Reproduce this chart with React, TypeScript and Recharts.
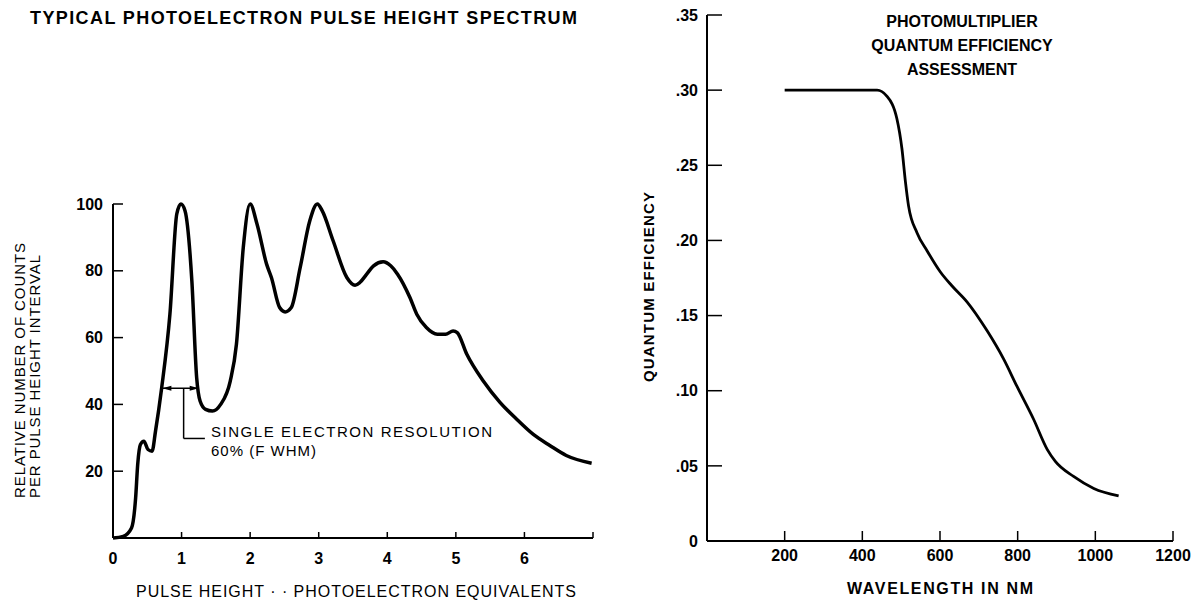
import React from "react";
import { LineChart, Line, XAxis, YAxis, ReferenceLine } from "recharts";

const FONT = '"Liberation Sans", Arial, Helvetica, sans-serif';

// left: typical photoelectron pulse height spectrum
const pulseHeight = [
  0, 0.15, 0.27, 0.33, 0.36, 0.4, 0.45, 0.51, 0.57, 0.62, 0.71, 0.83, 0.93, 0.99, 1.05, 1.15, 1.22, 1.27,
  1.35, 1.45, 1.57, 1.71, 1.8, 1.9, 2.0, 2.1, 2.24, 2.31, 2.43, 2.51, 2.6, 2.73, 2.87, 2.98, 3.05, 3.21,
  3.41, 3.53, 3.6, 3.7, 3.8, 3.94, 4.05, 4.15, 4.33, 4.43, 4.57, 4.73, 4.85, 4.96, 5.02, 5.16, 5.4, 5.64,
  5.88, 6.13, 6.37, 6.61, 6.98,
];
const relativeCounts = [
  0, 0.5, 3, 12, 22, 28, 29, 26.5, 26, 32, 45, 67, 97, 100, 98, 77, 48, 41,
  38.5, 38, 40, 47, 58, 87, 100, 94, 82, 78, 69, 67.7, 69, 81, 95, 100, 98, 89,
  78, 75.7, 76.5, 79, 81.5, 82.7, 81.5, 79, 72, 67, 63, 61, 61, 62, 61.5, 55, 47, 40.7,
  35.7, 31, 27.7, 24.7, 22.4,
];
const pulseTicks = [0, 1, 2, 3, 4, 5, 6, 7];
const countTicks = [20, 40, 60, 80, 100];

// FWHM marker and leader for the annotation
const fwhmLevel = 44.8;
const fwhmFrom = 0.72;
const fwhmTo = 1.25;
const leaderX = 1.03;
const leaderY = 29.8;
const leaderEnd = 1.34;

// right: quantum efficiency vs wavelength
const wavelength = [200, 300, 438, 463, 489, 502, 511, 519, 541, 567, 601, 630, 670, 721, 764, 798, 841, 876, 897, 944, 996, 1060];
const efficiency = [0.3, 0.3, 0.3, 0.296, 0.281, 0.261, 0.239, 0.223, 0.205, 0.193, 0.179, 0.17, 0.159, 0.14, 0.121, 0.103, 0.081, 0.061, 0.053, 0.043, 0.035, 0.03];
const waveTicks = [200, 400, 600, 800, 1000, 1200];
const qeTicks = [0, 0.05, 0.1, 0.15, 0.2, 0.25, 0.3, 0.35];

const pulseData = pulseHeight.map((x, i) => ({ x, y: relativeCounts[i] }));
const qeData = wavelength.map((x, i) => ({ x, y: efficiency[i] }));

const tickStyle = { fontSize: 16, fontWeight: 700, fill: "#000", fontFamily: FONT };
const axisLine = { stroke: "#000", strokeWidth: 2 };
const tickLine = { stroke: "#000", strokeWidth: 1.5 };

function Arrow(props: any) {
  const { x1, y1, x2, y2 } = props;
  const h = 5;
  return (
    <g>
      <line x1={x1} y1={y1} x2={x2} y2={y2} stroke="#000" strokeWidth={1.5} />
      <polygon points={`${x1},${y1} ${x1 + 9},${y1 - h / 2} ${x1 + 9},${y1 + h / 2}`} fill="#000" />
      <polygon points={`${x2},${y2} ${x2 - 9},${y2 - h / 2} ${x2 - 9},${y2 + h / 2}`} fill="#000" />
    </g>
  );
}

function Texts() {
  return (
    <svg width={1198} height={602} style={{ position: "absolute", left: 0, top: 0, pointerEvents: "none" }} fontFamily={FONT}>
      <text x={30} y={24} fontSize={18} fontWeight={700} textLength={547}>TYPICAL PHOTOELECTRON PULSE HEIGHT SPECTRUM</text>
      <text transform="translate(25,498) rotate(-90)" fontSize={15} textLength={255}>RELATIVE NUMBER OF COUNTS</text>
      <text transform="translate(40,498) rotate(-90)" fontSize={15} textLength={243}>PER PULSE HEIGHT INTERVAL</text>
      <text x={136} y={597} fontSize={16} textLength={440}>PULSE HEIGHT · · PHOTOELECTRON EQUIVALENTS</text>
      <text x={211} y={437} fontSize={15} textLength={281}>SINGLE ELECTRON RESOLUTION</text>
      <text x={211} y={456} fontSize={15} textLength={105}>60% (F WHM)</text>

      <text x={962} y={27} fontSize={16} fontWeight={700} textAnchor="middle">PHOTOMULTIPLIER</text>
      <text x={962} y={51} fontSize={16} fontWeight={700} textAnchor="middle">QUANTUM EFFICIENCY</text>
      <text x={962} y={75} fontSize={16} fontWeight={700} textAnchor="middle">ASSESSMENT</text>
      <text transform="translate(654,382) rotate(-90)" fontSize={15} fontWeight={700} textLength={190}>QUANTUM EFFICIENCY</text>
      <text x={847} y={594} fontSize={16} fontWeight={700} textLength={186}>WAVELENGTH IN NM</text>
    </svg>
  );
}

export default function App() {
  return (
    <div style={{ position: "fixed", left: 0, top: 0, width: 1198, height: 602, background: "#fff", fontFamily: FONT }}>
      <div style={{ position: "absolute", left: 0, top: 0 }}>
        <LineChart width={620} height={602} data={pulseData} margin={{ top: 204, right: 27, bottom: 34, left: 53 }}>
          <XAxis
            type="number"
            dataKey="x"
            domain={[0, 7]}
            ticks={pulseTicks}
            tickFormatter={(v) => (v === 7 ? "" : String(v))}
            height={30}
            tickSize={-6}
            tickMargin={21}
            axisLine={axisLine}
            tickLine={tickLine}
            tick={tickStyle}
          />
          <YAxis
            type="number"
            domain={[0, 100]}
            ticks={countTicks}
            width={60}
            tickSize={-10}
            tickMargin={20}
            axisLine={axisLine}
            tickLine={tickLine}
            tick={tickStyle}
          />
          <ReferenceLine segment={[{ x: fwhmFrom, y: fwhmLevel }, { x: fwhmTo, y: fwhmLevel }]} shape={Arrow} />
          <ReferenceLine segment={[{ x: leaderX, y: fwhmLevel }, { x: leaderX, y: leaderY }]} stroke="#000" strokeWidth={1.5} />
          <ReferenceLine segment={[{ x: leaderX, y: leaderY }, { x: leaderEnd, y: leaderY }]} stroke="#000" strokeWidth={1.5} />
          <Line type="monotone" dataKey="y" stroke="#000" strokeWidth={3.5} dot={false} isAnimationActive={false} />
        </LineChart>
      </div>
      <div style={{ position: "absolute", left: 640, top: 0 }}>
        <LineChart width={558} height={602} data={qeData} margin={{ top: 15, right: 25, bottom: 31, left: 7 }}>
          <XAxis
            type="number"
            dataKey="x"
            domain={[0, 1200]}
            ticks={waveTicks}
            height={30}
            tickSize={-10}
            tickMargin={19}
            axisLine={axisLine}
            tickLine={tickLine}
            tick={tickStyle}
          />
          <YAxis
            type="number"
            domain={[0, 0.35]}
            ticks={qeTicks}
            tickFormatter={(v) => (v === 0 ? "0" : "." + Math.round(v * 100).toString().padStart(2, "0"))}
            width={60}
            tickSize={-15}
            tickMargin={24}
            axisLine={axisLine}
            tickLine={tickLine}
            tick={tickStyle}
          />
          <Line type="monotone" dataKey="y" stroke="#000" strokeWidth={2.8} dot={false} isAnimationActive={false} />
        </LineChart>
      </div>
      <Texts />
    </div>
  );
}
